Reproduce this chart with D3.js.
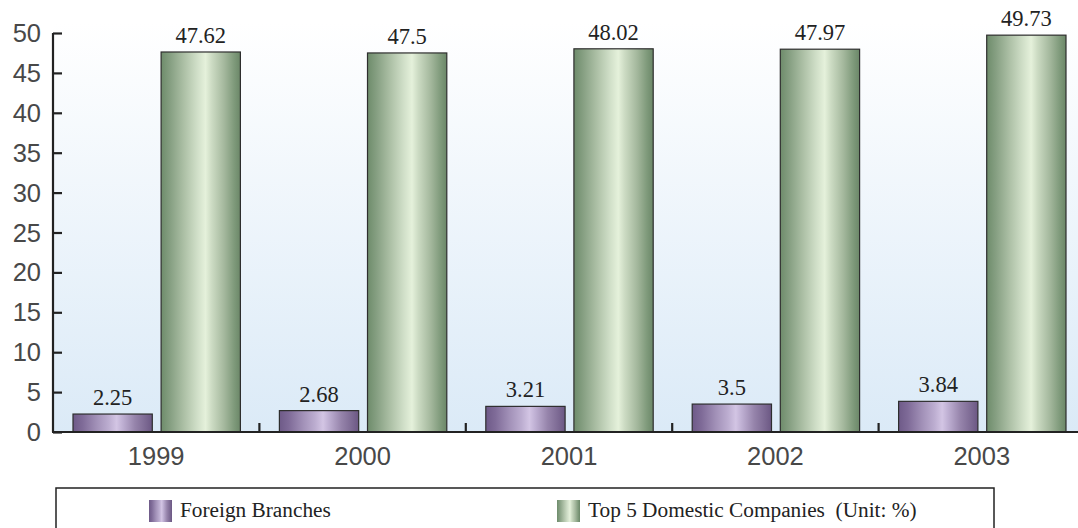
<!DOCTYPE html>
<html>
<head>
<meta charset="utf-8">
<script src="https://cdn.jsdelivr.net/npm/d3@7"></script>
<style>
  html, body { margin: 0; padding: 0; background: #ffffff; }
  svg { display: block; }
</style>
</head>
<body>
<svg id="chart" width="1078" height="528"></svg>
<script>
// Market share by year, in percent
const years = ["1999", "2000", "2001", "2002", "2003"];
const foreignBranches = [2.25, 2.68, 3.21, 3.5, 3.84];
const topFiveDomestic = [47.62, 47.5, 48.02, 47.97, 49.73];
const seriesNames = ["Foreign Branches", "Top 5 Domestic Companies  (Unit: %)"];
const yTicks = [0, 5, 10, 15, 20, 25, 30, 35, 40, 45, 50];

const svg = d3.select("#chart");
const W = 1078, H = 528;
const plotLeft = 53, plotTop = 33, plotBottom = 432;
const plotRight = 1085; // last category runs past the right edge

const defs = svg.append("defs");

// Plot background: white at the top fading to pale blue at the baseline
const bg = defs.append("linearGradient").attr("id", "bgGrad")
  .attr("x1", 0).attr("y1", 0).attr("x2", 0).attr("y2", 1);
bg.append("stop").attr("offset", "0%").attr("stop-color", "#ffffff");
bg.append("stop").attr("offset", "100%").attr("stop-color", "#dbeaf7");

// Cylindrical shading for the bars
function barGradient(id, stops) {
  const g = defs.append("linearGradient").attr("id", id)
    .attr("x1", 0).attr("y1", 0).attr("x2", 1).attr("y2", 0);
  stops.forEach(([o, c]) => g.append("stop").attr("offset", o).attr("stop-color", c));
}
barGradient("purpleGrad", [
  ["0%", "#6e5a88"], ["12%", "#7f6b98"], ["30%", "#a291b8"], ["45%", "#bcadd0"],
  ["55%", "#d3c5e4"], ["62%", "#c0b1d4"], ["78%", "#9684ab"], ["92%", "#7b6892"], ["100%", "#6b5783"]
]);
barGradient("greenGrad", [
  ["0%", "#6e8c6b"], ["12%", "#87a083"], ["30%", "#afc2a8"], ["45%", "#cfdec7"],
  ["56%", "#e5f1db"], ["64%", "#ccdbc3"], ["80%", "#a3b79c"], ["92%", "#7f9a7b"], ["100%", "#6b8768"]
]);

svg.append("rect")
  .attr("x", plotLeft).attr("y", plotTop - 10)
  .attr("width", W - plotLeft).attr("height", plotBottom - plotTop + 10)
  .attr("fill", "url(#bgGrad)");

const x0 = d3.scaleBand().domain(years).range([plotLeft, plotRight]).padding(0);
const x1 = d3.scaleBand().domain([0, 1])
  .range([20, x0.bandwidth() - 19]).paddingInner(0.1).paddingOuter(0);
const y = d3.scaleLinear().domain([0, 50]).range([plotBottom, plotTop]);

const fills = ["url(#purpleGrad)", "url(#greenGrad)"];
const series = [foreignBranches, topFiveDomestic];

const groups = svg.append("g").selectAll("g")
  .data(years).join("g")
  .attr("transform", d => `translate(${x0(d)},0)`);

groups.each(function(year, i) {
  const g = d3.select(this);
  series.forEach((vals, s) => {
    const v = vals[i];
    g.append("rect")
      .attr("x", x1(s))
      .attr("y", y(v))
      .attr("width", x1.bandwidth())
      .attr("height", y(0) - y(v))
      .attr("fill", fills[s])
      .attr("stroke", "#2e2e2e")
      .attr("stroke-width", 1.2);
    g.append("text")
      .attr("x", x1(s) + x1.bandwidth() / 2)
      .attr("y", y(v) - 9)
      .attr("text-anchor", "middle")
      .attr("font-family", "'Liberation Serif', 'Times New Roman', serif")
      .attr("font-size", 22.5)
      .attr("fill", "#222")
      .text(v);
  });
});

// Y axis
const yAxis = svg.append("g")
  .attr("transform", `translate(${plotLeft},0)`)
  .call(d3.axisRight(y).tickValues(yTicks).tickSize(9).tickFormat(""));
yAxis.select(".domain").attr("stroke", "#222").attr("stroke-width", 2.2)
  .attr("d", `M0,${plotTop}V${plotBottom}`);
yAxis.selectAll(".tick line").attr("stroke", "#222").attr("stroke-width", 2.2);

svg.append("g").selectAll("text")
  .data(yTicks).join("text")
  .attr("x", 41)
  .attr("y", d => y(d) + 9)
  .attr("text-anchor", "end")
  .attr("font-family", "'Liberation Sans', Arial, sans-serif")
  .attr("font-size", 25.5)
  .attr("fill", "#484848")
  .text(d => d);

// X axis: baseline with separator ticks between years
const xAxis = svg.append("g").attr("transform", `translate(0,${plotBottom})`);
xAxis.append("line")
  .attr("x1", plotLeft - 1).attr("x2", plotRight)
  .attr("stroke", "#222").attr("stroke-width", 2.2);
xAxis.selectAll(".sep")
  .data(years.slice(1)).join("line")
  .attr("class", "sep")
  .attr("x1", d => x0(d)).attr("x2", d => x0(d))
  .attr("y1", 0).attr("y2", -9)
  .attr("stroke", "#222").attr("stroke-width", 2.2);
xAxis.selectAll(".lbl")
  .data(years).join("text")
  .attr("class", "lbl")
  .attr("x", d => x0(d) + x0.bandwidth() / 2)
  .attr("y", 33)
  .attr("text-anchor", "middle")
  .attr("font-family", "'Liberation Sans', Arial, sans-serif")
  .attr("font-size", 25.5)
  .attr("fill", "#484848")
  .text(d => d);

// Legend
const legend = svg.append("g");
legend.append("rect")
  .attr("x", 56).attr("y", 488)
  .attr("width", 938).attr("height", 60)
  .attr("fill", "#ffffff")
  .attr("stroke", "#222").attr("stroke-width", 1.5);
const legendX = [149, 557];
seriesNames.forEach((name, s) => {
  legend.append("rect")
    .attr("x", legendX[s]).attr("y", 500)
    .attr("width", 23).attr("height", 22)
    .attr("fill", fills[s]);
  legend.append("text")
    .attr("x", legendX[s] + 31).attr("y", 517)
    .attr("font-family", "'Liberation Serif', 'Times New Roman', serif")
    .attr("font-size", 21.3)
    .attr("fill", "#222")
    .style("white-space", "pre")
    .text(name);
});
</script>
</body>
</html>
